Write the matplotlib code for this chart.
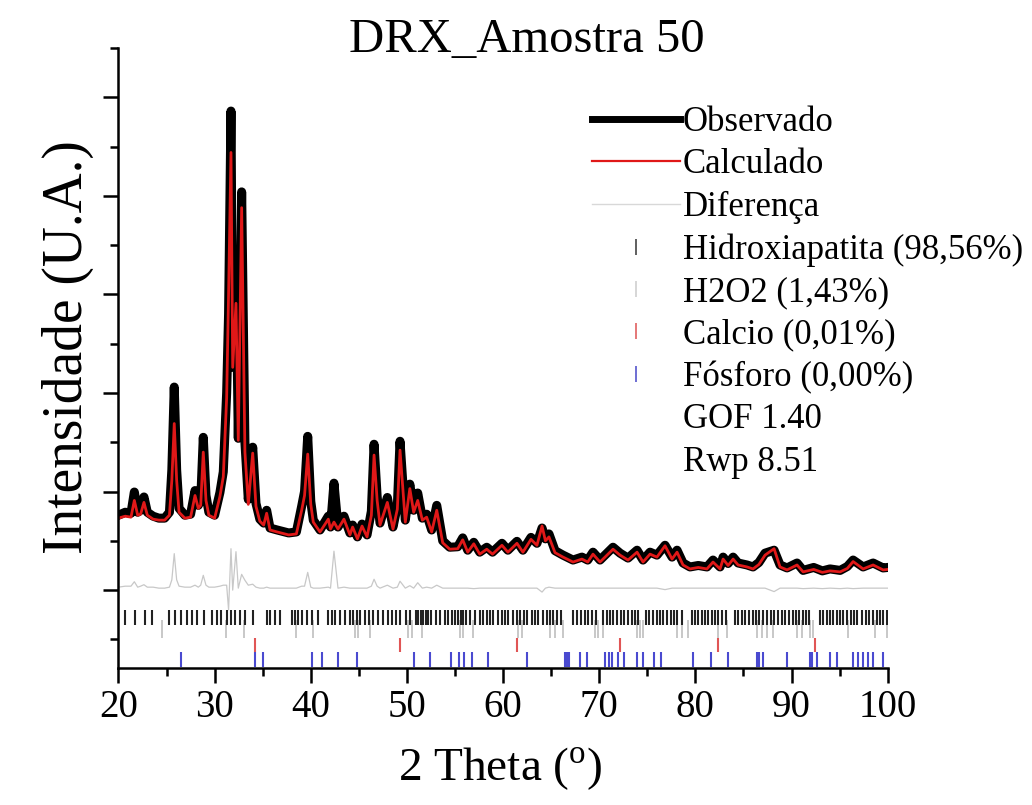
import numpy as np
import matplotlib.pyplot as plt
from matplotlib.lines import Line2D
from matplotlib.ticker import MultipleLocator

plt.rcParams['font.family'] = ['Liberation Serif', 'DejaVu Serif']
plt.rcParams['mathtext.fontset'] = 'custom'
plt.rcParams['mathtext.rm'] = 'Liberation Serif'

# perfil de difracao (2theta, observado, calculado)
dois_theta = [20.0, 20.7, 21.3, 21.65, 22.0, 22.3, 22.65, 23.0, 23.6, 24.2,
              24.8, 25.3, 25.55, 25.8, 26.05, 26.3, 26.9, 27.5, 27.96, 28.3,
              28.55, 28.82, 29.1, 29.4, 30.0, 30.55, 30.9, 31.25, 31.45, 31.7,
              31.88, 32.22, 32.46, 32.81, 33.15, 33.5, 33.96, 34.3, 34.7, 35.1,
              35.41, 35.76, 36.5, 37.7, 38.5, 39.05, 39.35, 39.68, 40.0, 40.26,
              40.96, 41.82, 42.05, 42.41, 42.83, 43.45, 44.07, 44.35, 44.85, 45.33,
              45.85, 46.3, 46.58, 46.9, 47.2, 47.96, 48.55, 49.0, 49.28, 49.83,
              50.3, 50.7, 51.12, 51.6, 52.05, 52.57, 53.1, 53.72, 54.45, 55.28,
              55.8, 56.32, 56.95, 57.57, 58.3, 58.9, 59.88, 60.5, 61.44, 62.06,
              62.9, 63.52, 64.05, 64.4, 64.77, 65.4, 66.23, 67.27, 68.2, 68.8,
              69.35, 70.08, 71.43, 72.16, 72.99, 73.93, 74.55, 75.28, 76.0, 76.84,
              77.57, 78.09, 78.71, 79.44, 80.3, 81.2, 81.83, 82.56, 82.88, 83.4,
              83.92, 84.44, 85.37, 85.99, 86.6, 87.24, 88.18, 88.8, 89.53, 90.57,
              91.2, 92.3, 93.2, 94.0, 95.05, 95.8, 96.4, 97.44, 98.48, 99.52,
              100.0]

observado = [760, 790, 780, 995, 790, 810, 945, 790, 750, 730,
             730, 790, 1220, 2060, 1220, 830, 760, 770, 1010, 860,
             910, 1550, 960, 790, 760, 990, 1200, 2000, 2800, 4860,
             2260, 3300, 1540, 4040, 1500, 920, 1450, 880, 720, 680,
             810, 630, 610, 580, 590, 850, 1000, 1560, 900, 710,
             610, 750, 640, 1085, 640, 750, 580, 660, 540, 670,
             560, 800, 1480, 950, 680, 940, 640, 850, 1510, 710,
             1075, 810, 985, 730, 770, 610, 860, 500, 435, 440,
             530, 405, 485, 385, 435, 385, 475, 405, 495, 405,
             535, 475, 630, 520, 570, 400, 355, 305, 335, 305,
             385, 305, 435, 375, 325, 405, 305, 385, 355, 455,
             335, 405, 275, 235, 250, 235, 305, 235, 335, 270,
             335, 275, 255, 235, 280, 375, 405, 255, 225, 275,
             200, 230, 195, 215, 200, 240, 305, 235, 275, 225,
             230]

calculado = [730, 750, 740, 910, 760, 770, 890, 760, 720, 710,
             710, 760, 1115, 1690, 1115, 790, 730, 740, 960, 830,
             860, 1400, 910, 760, 730, 950, 1150, 1950, 3000, 4440,
             2260, 2910, 1520, 3880, 1400, 870, 1390, 850, 700, 660,
             780, 610, 590, 560, 570, 810, 960, 1380, 870, 690,
             590, 720, 620, 690, 620, 720, 560, 640, 520, 650,
             540, 760, 1370, 910, 660, 890, 620, 820, 1420, 690,
             1030, 790, 910, 710, 740, 590, 810, 480, 415, 420,
             510, 385, 470, 365, 415, 365, 455, 385, 475, 385,
             515, 455, 650, 500, 540, 380, 335, 285, 315, 285,
             365, 285, 415, 355, 305, 385, 285, 365, 335, 450,
             315, 385, 255, 215, 230, 215, 285, 215, 315, 250,
             315, 255, 235, 215, 260, 355, 420, 235, 205, 255,
             185, 210, 180, 195, 185, 220, 290, 215, 255, 205,
             210]

# posicoes de Bragg de cada fase
hidroxiapatita = [20.7, 21.7, 22.8, 23.5, 25.3, 25.9, 26.5, 27.1, 27.6, 28.2,
                  28.9, 29.7, 30.2, 30.7, 31.3, 31.7, 32.1, 32.6, 33.2, 34.0,
                  35.4, 35.8, 36.3, 36.8, 38.0, 38.4, 38.7, 39.1, 39.6, 40.1,
                  40.8, 41.8, 42.2, 42.5, 43.0, 43.6, 44.1, 44.4, 44.8, 45.1,
                  45.6, 46.1, 46.5, 47.0, 47.5, 48.0, 48.4, 48.9, 49.3, 49.9,
                  50.3, 50.9, 51.18, 51.42, 51.7, 51.98, 52.2, 52.55, 53.07, 53.4,
                  53.95, 54.3, 54.65, 54.99, 55.34, 55.58, 55.86, 56.13, 56.55, 57.07,
                  57.59, 57.94, 58.28, 58.63, 58.98, 59.5, 59.84, 60.19, 60.54, 61.06,
                  61.4, 61.76, 62.18, 62.52, 62.97, 63.32, 63.67, 64.12, 64.53, 64.88,
                  65.23, 65.64, 65.99, 67.31, 67.72, 68.07, 68.52, 68.87, 69.21, 69.66,
                  70.43, 70.77, 71.12, 71.47, 71.81, 72.23, 72.58, 73.03, 73.37, 73.72,
                  74.07, 74.86, 75.21, 75.56, 75.97, 76.32, 76.67, 77.01, 77.43, 77.78,
                  78.12, 78.57, 79.61, 79.96, 80.31, 80.65, 81.0, 81.35, 81.69, 82.04,
                  82.39, 82.73, 83.18, 84.12, 84.47, 84.81, 85.16, 85.61, 85.96, 86.3,
                  86.65, 87.07, 87.48, 87.83, 88.18, 88.63, 88.97, 89.32, 89.77, 90.12,
                  90.47, 90.81, 91.16, 91.51, 91.85, 92.96, 93.31, 93.66, 94.0, 94.35,
                  94.7, 95.04, 95.39, 95.81, 96.15, 96.5, 96.84, 97.29, 97.75, 98.09,
                  98.44, 98.86, 99.2, 99.55, 99.9]

h2o2 = [24.56, 31.2, 33.05, 38.45, 40.26, 44.6, 44.95, 46.16, 50.15, 50.49,
        51.53, 55.52, 55.8, 56.84, 61.59, 61.93, 64.88, 65.4, 66.27, 69.56,
        69.91, 70.43, 73.89, 74.24, 74.59, 78.05, 78.57, 79.27, 82.39, 83.25,
        86.37, 86.89, 87.41, 88.11, 90.53, 91.05, 91.92, 92.27, 95.91, 98.68,
        99.9]

calcio = [34.2, 49.3, 61.4, 72.2, 82.4, 92.4]

fosforo = [26.5, 34.2, 35.0, 40.1, 41.2, 42.86, 44.84, 50.73, 52.4, 54.58,
           55.41, 55.97, 56.73, 58.4, 62.45, 66.44, 66.61, 66.89, 68.0, 68.76,
           70.6, 71.05, 71.29, 71.99, 72.58, 73.96, 74.52, 75.7, 76.39, 79.79,
           81.62, 83.43, 86.37, 86.58, 87.07, 89.56, 91.92, 92.1, 92.68, 94.0,
           94.76, 96.36, 96.95, 97.47, 97.92, 98.44, 99.55]

obs = np.array(observado)
calc = np.array(calculado)
dif = obs - calc

fig = plt.figure(figsize=(10.32, 8.05), dpi=100)
ax = fig.add_axes([0.1148, 0.1702, 0.7454, 0.7702])

ax.plot(dois_theta, dif, color='#c8c8c8', lw=0.9)
ax.plot(dois_theta, obs, color='black', lw=6.5, solid_joinstyle='round')
ax.plot(dois_theta, calc, color='#e01818', lw=2)

ax.vlines(h2o2, -487, -304, colors='#c4c4c4', lw=1.3)
ax.vlines(hidroxiapatita, -355, -203, colors='#222222', lw=1.5)
ax.vlines(calcio, -629, -487, colors='#e05555', lw=1.5)
ax.vlines(fosforo, -781, -629, colors='#4a4ad0', lw=1.5)

ax.set_xlim(20, 100)
ax.set_ylim(-790, 5500)
ax.xaxis.set_major_locator(MultipleLocator(10))
ax.xaxis.set_minor_locator(MultipleLocator(5))
ax.yaxis.set_major_locator(MultipleLocator(1000))
ax.yaxis.set_minor_locator(MultipleLocator(500))
ax.tick_params(which='major', length=11, width=1.8, direction='out', labelsize=28, pad=4)
ax.tick_params(which='minor', length=6, width=1.8, direction='out')
ax.tick_params(axis='y', labelleft=False)
for s in ['top', 'right']:
    ax.spines[s].set_visible(False)
for s in ['left', 'bottom']:
    ax.spines[s].set_linewidth(1.8)

ax.set_xlabel(r'2 Theta ($^{\mathrm{o}}$)', fontsize=34)
ax.xaxis.set_label_coords(0.5 + (500 - 503) / 769.2, -0.125)
ax.set_ylabel('Intensidade (U.A.)', fontsize=40)
ax.yaxis.set_label_coords(-0.032, 0.518)

fig.text(527 / 1032, 1 - 40 / 805, 'DRX_Amostra 50', fontsize=35, ha='center', va='center')

handles = [
    Line2D([], [], color='black', lw=5),
    Line2D([], [], color='#e01818', lw=1.6),
    Line2D([], [], color='#d8d8d8', lw=1),
    Line2D([], [], color='#444444', marker='|', ls='none', markersize=11, mew=1.2),
    Line2D([], [], color='#d0d0d0', marker='|', ls='none', markersize=11, mew=1.2),
    Line2D([], [], color='#e06060', marker='|', ls='none', markersize=11, mew=1.2),
    Line2D([], [], color='#5555cc', marker='|', ls='none', markersize=11, mew=1.2),
    Line2D([], [], color='none'),
    Line2D([], [], color='none'),
]
labels = ['Observado', 'Calculado', 'Diferença', 'Hidroxiapatita (98,56%)',
          'H2O2 (1,43%)', 'Calcio (0,01%)', 'Fósforo (0,00%)', 'GOF 1.40', 'Rwp 8.51']
ax.legend(handles, labels, loc='upper left', bbox_to_anchor=(592 / 1032, 1 - 106 / 805),
          bbox_transform=fig.transFigure, frameon=False, fontsize=25, borderpad=0,
          borderaxespad=0, handlelength=2.54, handletextpad=0.08, labelspacing=0.27)

fig.savefig('out.png', dpi=100)
